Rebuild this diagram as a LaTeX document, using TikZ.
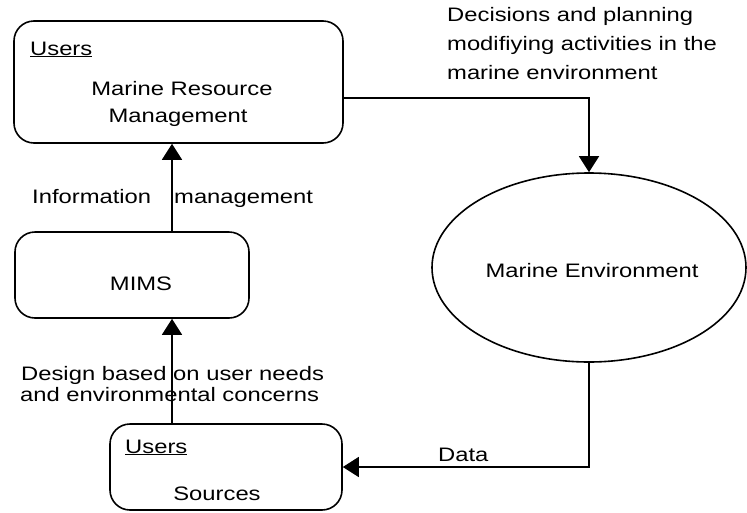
\documentclass[tikz,border=0pt]{standalone}
\usepackage{fontspec}
\setmainfont{Liberation Sans}
\usepackage{graphicx}
\usetikzlibrary{arrows.meta,shapes.geometric}
% text set a little wider than the font's natural width
\newcommand\widetxt[1]{\scalebox{1.22}[1]{#1}}
\begin{document}
\begin{tikzpicture}[x=1pt,y=-1pt,
  every node/.style={font=\fontsize{19.5}{29}\selectfont, inner sep=0pt},
  box/.style={draw, line width=1.6pt, rounded corners=20pt},
  flow/.style={line width=1.5pt, -{Triangle[width=20pt,length=16pt]}},
  lbl/.style={anchor=base west},
  ctr/.style={anchor=base},
]
\useasboundingbox (0,0) rectangle (747,512);

% boxes and the ellipse
\node[box, minimum width=329pt, minimum height=122pt] (mrm) at (178.5,82) {};
\node[box, minimum width=234pt, minimum height=86pt] (mims) at (132,275) {};
\node[box, minimum width=232pt, minimum height=86pt] (src) at (226,467) {};
\node[draw, ellipse, line width=1.6pt, minimum width=314pt, minimum height=189pt] (env) at (589,267.5) {};

% texts inside the shapes
\node[lbl] (u1) at (30,55) {\widetxt{\underline{Users}}};
\node[ctr] (mrm1) at (182,95) {\widetxt{Marine Resource}};
\node[ctr] (mrm2) at (178,122) {\widetxt{Management}};
\node[ctr] (mimst) at (141,290) {\widetxt{MIMS}};
\node[lbl] (u2) at (125,453) {\widetxt{\underline{Users}}};
\node[ctr] (srct) at (217,500) {\widetxt{Sources}};
\node[ctr] (envt) at (592,277) {\widetxt{Marine Environment}};

% connector labels
\node[lbl] (inf1) at (32,203) {\widetxt{Information}};
\node[lbl] (inf2) at (174,203) {\widetxt{management}};
\node[lbl] (des1) at (21,380) {\widetxt{Design based on user needs}};
\node[lbl] (des2) at (20,401) {\widetxt{and environmental concerns}};
\node[lbl] (dec1) at (447,21) {\widetxt{Decisions and planning}};
\node[lbl] (dec2) at (447,50) {\widetxt{modifiying activities in the}};
\node[lbl] (dec3) at (447,79) {\widetxt{marine environment}};
\node[lbl] (datat) at (438,461) {\widetxt{Data}};

% routing helpers
\coordinate (spine) at (172,0);
\coordinate (decy) at (0,98);

% connectors
\draw[flow] (src.north -| spine) -- (mims.south -| spine);
\draw[flow] (mims.north -| spine) -- (mrm.south -| spine);
\draw[flow] (mrm.east |- decy) -| (env.north);
\draw[flow] (env.south) |- (src.east);
\end{tikzpicture}
\end{document}
